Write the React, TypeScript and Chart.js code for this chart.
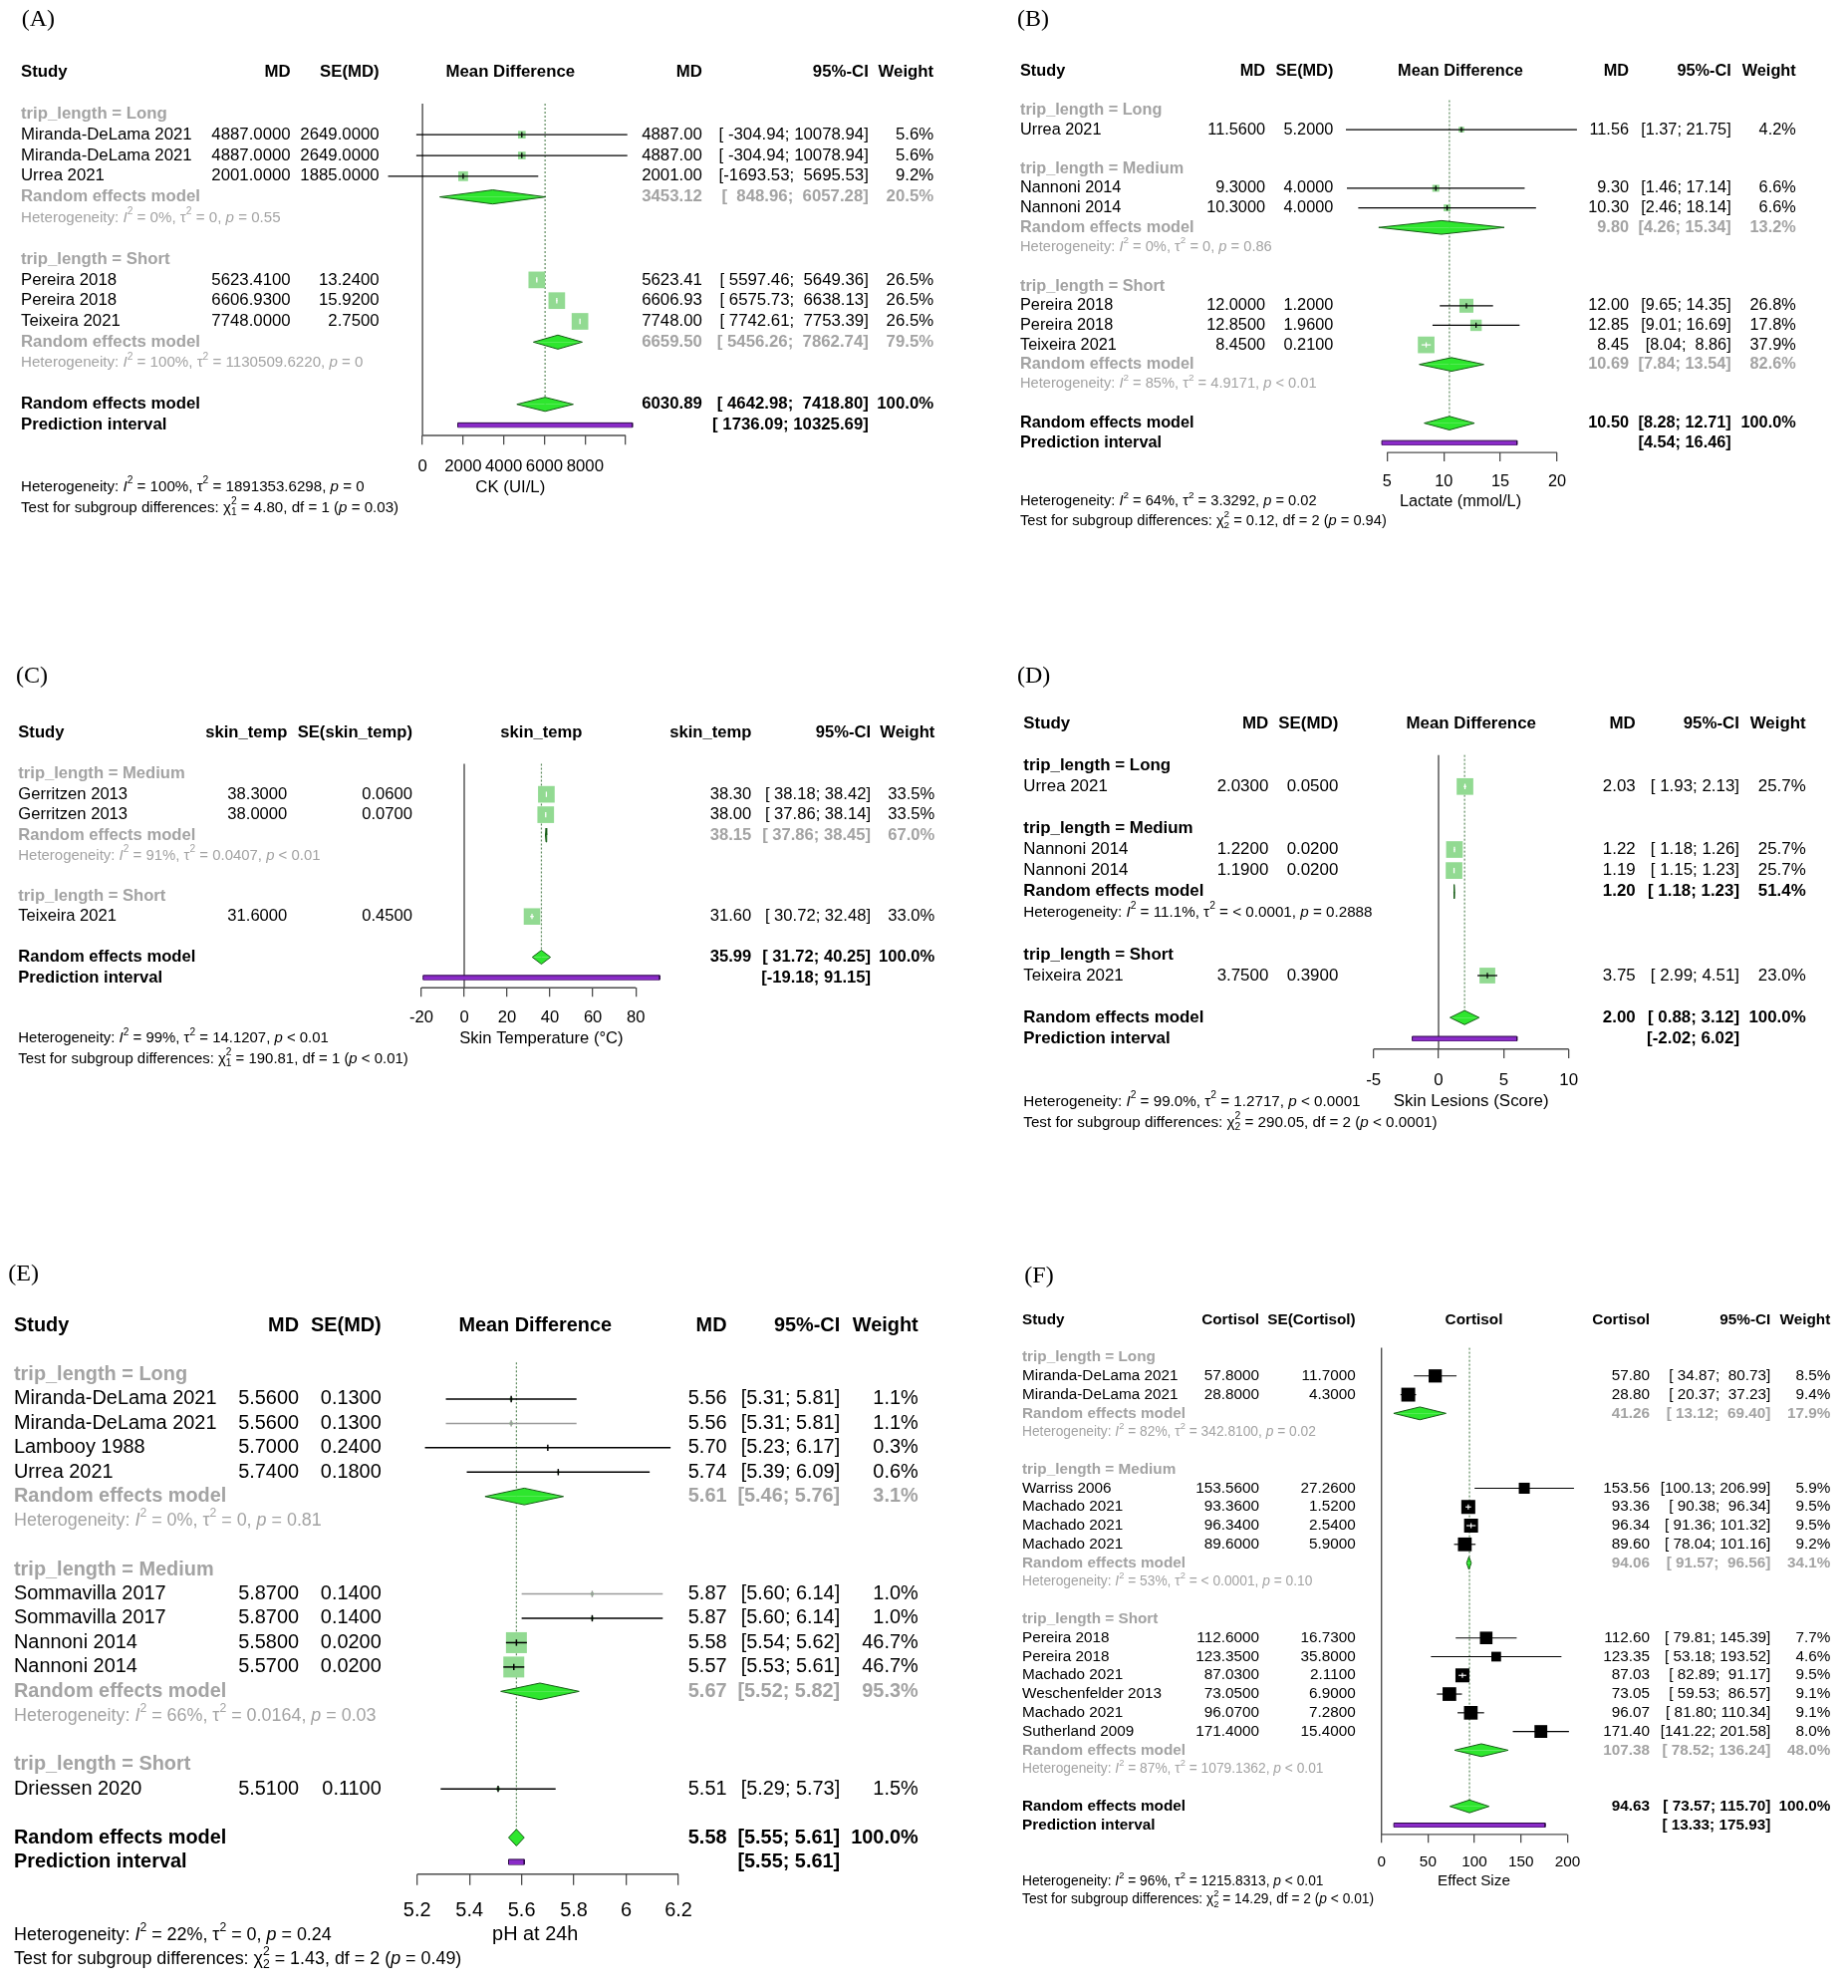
import React, { useEffect, useRef } from 'react';
import { Chart, registerables } from 'chart.js';

Chart.register(...registerables);

// ================= DATA =================
// ---- Panel A : CK ----
const A_GROUPS = ['trip_length = Long', 'trip_length = Short'];
const A_STUDIES = ['Miranda-DeLama 2021', 'Miranda-DeLama 2021', 'Urrea 2021', 'Pereira 2018', 'Pereira 2018', 'Teixeira 2021'];
const A_STUDY_GROUP = [0, 0, 0, 1, 1, 1];
const A_MD = [4887.0, 4887.0, 2001.0, 5623.41, 6606.93, 7748.0];
const A_SE = [2649.0, 2649.0, 1885.0, 13.24, 15.92, 2.75];
const A_LOWER = [-304.94, -304.94, -1693.53, 5597.46, 6575.73, 7742.61];
const A_UPPER = [10078.94, 10078.94, 5695.53, 5649.36, 6638.13, 7753.39];
const A_WEIGHT = [5.6, 5.6, 9.2, 26.5, 26.5, 26.5];
const A_SUB_MD = [3453.12, 6659.5];
const A_SUB_LOWER = [848.96, 5456.26];
const A_SUB_UPPER = [6057.28, 7862.74];
const A_SUB_WEIGHT = [20.5, 79.5];
const A_SUB_HET = ['Heterogeneity: *I*^2^ = 0%, τ^2^ = 0, *p* = 0.55', 'Heterogeneity: *I*^2^ = 100%, τ^2^ = 1130509.6220, *p* = 0'];
const A_OVERALL = [6030.89, 4642.98, 7418.8];
const A_PRED = [1736.09, 10325.69];
const A_HET = 'Heterogeneity: *I*^2^ = 100%, τ^2^ = 1891353.6298, *p* = 0';
const A_TEST = 'Test for subgroup differences: χ^2^_1_ = 4.80, df = 1 (*p* = 0.03)';
const A_TICKS = [0, 2000, 4000, 6000, 8000, 10000];
const A_TICK_LABELS = ['0', '2000', '4000', '6000', '8000', ''];
const A_HEADS = ['MD', 'SE(MD)', 'Mean Difference', 'MD'];
const A_XLAB = 'CK (UI/L)';

// ---- Panel B : Lactate ----
const B_GROUPS = ['trip_length = Long', 'trip_length = Medium', 'trip_length = Short'];
const B_STUDIES = ['Urrea 2021', 'Nannoni 2014', 'Nannoni 2014', 'Pereira 2018', 'Pereira 2018', 'Teixeira 2021'];
const B_STUDY_GROUP = [0, 1, 1, 2, 2, 2];
const B_MD = [11.56, 9.3, 10.3, 12.0, 12.85, 8.45];
const B_SE = [5.2, 4.0, 4.0, 1.2, 1.96, 0.21];
const B_LOWER = [1.37, 1.46, 2.46, 9.65, 9.01, 8.04];
const B_UPPER = [21.75, 17.14, 18.14, 14.35, 16.69, 8.86];
const B_WEIGHT = [4.2, 6.6, 6.6, 26.8, 17.8, 37.9];
const B_SUB_MD = [9.8, 10.69];
const B_SUB_LOWER = [4.26, 7.84];
const B_SUB_UPPER = [15.34, 13.54];
const B_SUB_WEIGHT = [13.2, 82.6];
const B_SUB_HET = ['Heterogeneity: *I*^2^ = 0%, τ^2^ = 0, *p* = 0.86', 'Heterogeneity: *I*^2^ = 85%, τ^2^ = 4.9171, *p* < 0.01'];
const B_OVERALL = [10.5, 8.28, 12.71];
const B_PRED = [4.54, 16.46];
const B_HET = 'Heterogeneity: *I*^2^ = 64%, τ^2^ = 3.3292, *p* = 0.02';
const B_TEST = 'Test for subgroup differences: χ^2^_2_ = 0.12, df = 2 (*p* = 0.94)';
const B_TICKS = [5, 10, 15, 20];
const B_TICK_LABELS = ['5', '10', '15', '20'];
const B_HEADS = ['MD', 'SE(MD)', 'Mean Difference', 'MD'];
const B_XLAB = 'Lactate (mmol/L)';

// ---- Panel C : Skin temperature ----
const C_GROUPS = ['trip_length = Medium', 'trip_length = Short'];
const C_STUDIES = ['Gerritzen 2013', 'Gerritzen 2013', 'Teixeira 2021'];
const C_STUDY_GROUP = [0, 0, 1];
const C_MD = [38.3, 38.0, 31.6];
const C_SE = [0.06, 0.07, 0.45];
const C_LOWER = [38.18, 37.86, 30.72];
const C_UPPER = [38.42, 38.14, 32.48];
const C_WEIGHT = [33.5, 33.5, 33.0];
const C_SUB_MD = [38.15];
const C_SUB_LOWER = [37.86];
const C_SUB_UPPER = [38.45];
const C_SUB_WEIGHT = [67.0];
const C_SUB_HET = ['Heterogeneity: *I*^2^ = 91%, τ^2^ = 0.0407, *p* < 0.01'];
const C_OVERALL = [35.99, 31.72, 40.25];
const C_PRED = [-19.18, 91.15];
const C_HET = 'Heterogeneity: *I*^2^ = 99%, τ^2^ = 14.1207, *p* < 0.01';
const C_TEST = 'Test for subgroup differences: χ^2^_1_ = 190.81, df = 1 (*p* < 0.01)';
const C_TICKS = [-20, 0, 20, 40, 60, 80];
const C_TICK_LABELS = ['-20', '0', '20', '40', '60', '80'];
const C_HEADS = ['skin_temp', 'SE(skin_temp)', 'skin_temp', 'skin_temp'];
const C_XLAB = 'Skin Temperature (°C)';

// ---- Panel D : Skin lesions ----
const D_GROUPS = ['trip_length = Long', 'trip_length = Medium', 'trip_length = Short'];
const D_STUDIES = ['Urrea 2021', 'Nannoni 2014', 'Nannoni 2014', 'Teixeira 2021'];
const D_STUDY_GROUP = [0, 1, 1, 2];
const D_MD = [2.03, 1.22, 1.19, 3.75];
const D_SE = [0.05, 0.02, 0.02, 0.39];
const D_LOWER = [1.93, 1.18, 1.15, 2.99];
const D_UPPER = [2.13, 1.26, 1.23, 4.51];
const D_WEIGHT = [25.7, 25.7, 25.7, 23.0];
const D_SUB_MD = [1.2];
const D_SUB_LOWER = [1.18];
const D_SUB_UPPER = [1.23];
const D_SUB_WEIGHT = [51.4];
const D_SUB_HET = ['Heterogeneity: *I*^2^ = 11.1%, τ^2^ = < 0.0001, *p* = 0.2888'];
const D_OVERALL = [2.0, 0.88, 3.12];
const D_PRED = [-2.02, 6.02];
const D_HET = 'Heterogeneity: *I*^2^ = 99.0%, τ^2^ = 1.2717, *p* < 0.0001';
const D_TEST = 'Test for subgroup differences: χ^2^_2_ = 290.05, df = 2 (*p* < 0.0001)';
const D_TICKS = [-5, 0, 5, 10];
const D_TICK_LABELS = ['-5', '0', '5', '10'];
const D_HEADS = ['MD', 'SE(MD)', 'Mean Difference', 'MD'];
const D_XLAB = 'Skin Lesions (Score)';

// ---- Panel E : pH at 24h ----
const E_GROUPS = ['trip_length = Long', 'trip_length = Medium', 'trip_length = Short'];
const E_STUDIES = ['Miranda-DeLama 2021', 'Miranda-DeLama 2021', 'Lambooy 1988', 'Urrea 2021', 'Sommavilla 2017', 'Sommavilla 2017', 'Nannoni 2014', 'Nannoni 2014', 'Driessen 2020'];
const E_STUDY_GROUP = [0, 0, 0, 0, 1, 1, 1, 1, 2];
const E_MD = [5.56, 5.56, 5.7, 5.74, 5.87, 5.87, 5.58, 5.57, 5.51];
const E_SE = [0.13, 0.13, 0.24, 0.18, 0.14, 0.14, 0.02, 0.02, 0.11];
const E_LOWER = [5.31, 5.31, 5.23, 5.39, 5.6, 5.6, 5.54, 5.53, 5.29];
const E_UPPER = [5.81, 5.81, 6.17, 6.09, 6.14, 6.14, 5.62, 5.61, 5.73];
const E_WEIGHT = [1.1, 1.1, 0.3, 0.6, 1.0, 1.0, 46.7, 46.7, 1.5];
const E_SUB_MD = [5.61, 5.67];
const E_SUB_LOWER = [5.46, 5.52];
const E_SUB_UPPER = [5.76, 5.82];
const E_SUB_WEIGHT = [3.1, 95.3];
const E_SUB_HET = ['Heterogeneity: *I*^2^ = 0%, τ^2^ = 0, *p* = 0.81', 'Heterogeneity: *I*^2^ = 66%, τ^2^ = 0.0164, *p* = 0.03'];
const E_OVERALL = [5.58, 5.55, 5.61];
const E_PRED = [5.55, 5.61];
const E_HET = 'Heterogeneity: *I*^2^ = 22%, τ^2^ = 0, *p* = 0.24';
const E_TEST = 'Test for subgroup differences: χ^2^_2_ = 1.43, df = 2 (*p* = 0.49)';
const E_TICKS = [5.2, 5.4, 5.6, 5.8, 6.0, 6.2];
const E_TICK_LABELS = ['5.2', '5.4', '5.6', '5.8', '6', '6.2'];
const E_HEADS = ['MD', 'SE(MD)', 'Mean Difference', 'MD'];
const E_XLAB = 'pH at 24h';

// ---- Panel F : Cortisol ----
const F_GROUPS = ['trip_length = Long', 'trip_length = Medium', 'trip_length = Short'];
const F_STUDIES = ['Miranda-DeLama 2021', 'Miranda-DeLama 2021', 'Warriss 2006', 'Machado 2021', 'Machado 2021', 'Machado 2021', 'Pereira 2018', 'Pereira 2018', 'Machado 2021', 'Weschenfelder 2013', 'Machado 2021', 'Sutherland 2009'];
const F_STUDY_GROUP = [0, 0, 1, 1, 1, 1, 2, 2, 2, 2, 2, 2];
const F_MD = [57.8, 28.8, 153.56, 93.36, 96.34, 89.6, 112.6, 123.35, 87.03, 73.05, 96.07, 171.4];
const F_SE = [11.7, 4.3, 27.26, 1.52, 2.54, 5.9, 16.73, 35.8, 2.11, 6.9, 7.28, 15.4];
const F_LOWER = [34.87, 20.37, 100.13, 90.38, 91.36, 78.04, 79.81, 53.18, 82.89, 59.53, 81.8, 141.22];
const F_UPPER = [80.73, 37.23, 206.99, 96.34, 101.32, 101.16, 145.39, 193.52, 91.17, 86.57, 110.34, 201.58];
const F_WEIGHT = [8.5, 9.4, 5.9, 9.5, 9.5, 9.2, 7.7, 4.6, 9.5, 9.1, 9.1, 8.0];
const F_SUB_MD = [41.26, 94.06, 107.38];
const F_SUB_LOWER = [13.12, 91.57, 78.52];
const F_SUB_UPPER = [69.4, 96.56, 136.24];
const F_SUB_WEIGHT = [17.9, 34.1, 48.0];
const F_SUB_HET = ['Heterogeneity: *I*^2^ = 82%, τ^2^ = 342.8100, *p* = 0.02', 'Heterogeneity: *I*^2^ = 53%, τ^2^ = < 0.0001, *p* = 0.10', 'Heterogeneity: *I*^2^ = 87%, τ^2^ = 1079.1362, *p* < 0.01'];
const F_OVERALL = [94.63, 73.57, 115.7];
const F_PRED = [13.33, 175.93];
const F_HET = 'Heterogeneity: *I*^2^ = 96%, τ^2^ = 1215.8313, *p* < 0.01';
const F_TEST = 'Test for subgroup differences: χ^2^_2_ = 14.29, df = 2 (*p* < 0.01)';
const F_TICKS = [0, 50, 100, 150, 200];
const F_TICK_LABELS = ['0', '50', '100', '150', '200'];
const F_HEADS = ['Cortisol', 'SE(Cortisol)', 'Cortisol', 'Cortisol'];
const F_XLAB = 'Effect Size';

// ================= STYLE / LAYOUT =================
const FONT = '"Liberation Sans", Arial, Helvetica, sans-serif';
const SERIF = '"Liberation Serif", "Times New Roman", serif';
const GRAY = '#a3a3a3';
const SQ_GREEN = 'rgb(146, 218, 146)';
const DIAMOND_FILL = '#2ee62e';
const DIAMOND_LINE = '#145a14';
const PI_FILL = '#8a2bc8';
const PI_LINE = '#2b0a45';
const AXIS_COL = '#4d4d4d';
const DOT_COL = '#5d8a5d';

const mk = (p: any) => p;

const PANELS: any[] = [
  {
    d: mk({ groups: A_GROUPS, studies: A_STUDIES, studyGroup: A_STUDY_GROUP, md: A_MD, se: A_SE, lower: A_LOWER, upper: A_UPPER, weight: A_WEIGHT, subMd: A_SUB_MD, subLower: A_SUB_LOWER, subUpper: A_SUB_UPPER, subWeight: A_SUB_WEIGHT, subHet: A_SUB_HET, overall: A_OVERALL, pred: A_PRED, het: A_HET, test: A_TEST, ticks: A_TICKS, tickLabels: A_TICK_LABELS, heads: A_HEADS, xlab: A_XLAB }),
    L: { label: '(A)', ox: 0, oy: 0, w: 950, h: 540, labelX: 21.7, labelY: 19.4, row0: 114.4, step: 20.81, x0val: 0, x0px: 424.1, ppu: 0.0204, font: 16.8, boxMax: 16.7, cols: { study: 21, md: 291.7, se: 380.7, center: 512.3, est: 704.8, ci: 871.8, weight: 937.2 }, square: SQ_GREEN, subBlack: false, light: [] },
  },
  {
    d: mk({ groups: B_GROUPS, studies: B_STUDIES, studyGroup: B_STUDY_GROUP, md: B_MD, se: B_SE, lower: B_LOWER, upper: B_UPPER, weight: B_WEIGHT, subMd: B_SUB_MD, subLower: B_SUB_LOWER, subUpper: B_SUB_UPPER, subWeight: B_SUB_WEIGHT, subHet: B_SUB_HET, overall: B_OVERALL, pred: B_PRED, het: B_HET, test: B_TEST, ticks: B_TICKS, tickLabels: B_TICK_LABELS, heads: B_HEADS, xlab: B_XLAB }),
    L: { label: '(B)', ox: 1000, oy: 0, w: 855, h: 545, labelX: 1021, labelY: 20, row0: 110.4, step: 19.64, x0val: 0, x0px: 1335.4, ppu: 11.38, font: 16.3, boxMax: 16.7, cols: { study: 1024, md: 1270, se: 1338.3, center: 1466, est: 1635, ci: 1737.7, weight: 1802.7 }, square: SQ_GREEN, subBlack: false, light: [] },
  },
  {
    d: mk({ groups: C_GROUPS, studies: C_STUDIES, studyGroup: C_STUDY_GROUP, md: C_MD, se: C_SE, lower: C_LOWER, upper: C_UPPER, weight: C_WEIGHT, subMd: C_SUB_MD, subLower: C_SUB_LOWER, subUpper: C_SUB_UPPER, subWeight: C_SUB_WEIGHT, subHet: C_SUB_HET, overall: C_OVERALL, pred: C_PRED, het: C_HET, test: C_TEST, ticks: C_TICKS, tickLabels: C_TICK_LABELS, heads: C_HEADS, xlab: C_XLAB }),
    L: { label: '(C)', ox: 0, oy: 650, w: 950, h: 440, labelX: 16, labelY: 679, row0: 776.7, step: 20.43, x0val: 0, x0px: 466, ppu: 2.152, font: 16.6, boxMax: 16.7, cols: { study: 18.3, md: 288.3, se: 414, center: 543.4, est: 754.3, ci: 874, weight: 938.3 }, square: SQ_GREEN, subBlack: false, light: [] },
  },
  {
    d: mk({ groups: D_GROUPS, studies: D_STUDIES, studyGroup: D_STUDY_GROUP, md: D_MD, se: D_SE, lower: D_LOWER, upper: D_UPPER, weight: D_WEIGHT, subMd: D_SUB_MD, subLower: D_SUB_LOWER, subUpper: D_SUB_UPPER, subWeight: D_SUB_WEIGHT, subHet: D_SUB_HET, overall: D_OVERALL, pred: D_PRED, het: D_HET, test: D_TEST, ticks: D_TICKS, tickLabels: D_TICK_LABELS, heads: D_HEADS, xlab: D_XLAB }),
    L: { label: '(D)', ox: 1000, oy: 650, w: 855, h: 500, labelX: 1021, labelY: 679, row0: 768.2, step: 21.08, x0val: 0, x0px: 1444, ppu: 13.07, font: 16.9, boxMax: 16.7, cols: { study: 1027.3, md: 1273.3, se: 1343.3, center: 1476.7, est: 1641.7, ci: 1746, weight: 1812.7 }, square: SQ_GREEN, subBlack: true, light: [] },
  },
  {
    d: mk({ groups: E_GROUPS, studies: E_STUDIES, studyGroup: E_STUDY_GROUP, md: E_MD, se: E_SE, lower: E_LOWER, upper: E_UPPER, weight: E_WEIGHT, subMd: E_SUB_MD, subLower: E_SUB_LOWER, subUpper: E_SUB_UPPER, subWeight: E_SUB_WEIGHT, subHet: E_SUB_HET, overall: E_OVERALL, pred: E_PRED, het: E_HET, test: E_TEST, ticks: E_TICKS, tickLabels: E_TICK_LABELS, heads: E_HEADS, xlab: E_XLAB }),
    L: { label: '(E)', ox: 0, oy: 1250, w: 950, h: 745, labelX: 8.3, labelY: 1279, row0: 1379.5, step: 24.45, x0val: 5.2, x0px: 418.7, ppu: 262.3, font: 19.9, boxMax: 21, cols: { study: 14, md: 300, se: 382.7, center: 537.2, est: 729.5, ci: 843.2, weight: 921.7 }, square: SQ_GREEN, subBlack: false, light: [1, 4] },
  },
  {
    d: mk({ groups: F_GROUPS, studies: F_STUDIES, studyGroup: F_STUDY_GROUP, md: F_MD, se: F_SE, lower: F_LOWER, upper: F_UPPER, weight: F_WEIGHT, subMd: F_SUB_MD, subLower: F_SUB_LOWER, subUpper: F_SUB_UPPER, subWeight: F_SUB_WEIGHT, subHet: F_SUB_HET, overall: F_OVERALL, pred: F_PRED, het: F_HET, test: F_TEST, ticks: F_TICKS, tickLabels: F_TICK_LABELS, heads: F_HEADS, xlab: F_XLAB }),
    L: { label: '(F)', ox: 1000, oy: 1250, w: 855, h: 700, labelX: 1028.3, labelY: 1281, row0: 1362, step: 18.78, x0val: 0, x0px: 1386.7, ppu: 0.9336, font: 15.3, boxMax: 14, cols: { study: 1026, md: 1264, se: 1360.7, center: 1479.5, est: 1656, ci: 1777.3, weight: 1837.3 }, square: '#000000', subBlack: false, light: [] },
  },
];

// ================= HELPERS =================
function drawRich(ctx: any, markup: string, x: number, y: number, size: number, color: string) {
  const segs: any[] = [];
  let it = false;
  let mode = 0;
  let buf = '';
  const flush = () => {
    if (buf) segs.push({ t: buf, it, mode });
    buf = '';
  };
  for (const ch of markup) {
    if (ch === '*') { flush(); it = !it; }
    else if (ch === '^') { flush(); mode = mode === 1 ? 0 : 1; }
    else if (ch === '_') { flush(); mode = mode === 2 ? 0 : 2; }
    else buf += ch;
  }
  flush();
  ctx.fillStyle = color;
  ctx.textAlign = 'left';
  ctx.textBaseline = 'middle';
  let cx = x;
  let supX = 0;
  let supW = 0;
  let prev = 0;
  for (const s of segs) {
    const fs = s.mode ? size * 0.68 : size;
    ctx.font = `${s.it ? 'italic ' : ''}${fs}px ${FONT}`;
    const w = ctx.measureText(s.t).width;
    const dy = s.mode === 1 ? -size * 0.42 : s.mode === 2 ? size * 0.32 : 0;
    if (s.mode === 2 && prev === 1) {
      ctx.fillText(s.t, supX, y + dy);
      cx = supX + Math.max(supW, w);
    } else {
      ctx.fillText(s.t, cx, y + dy);
      if (s.mode === 1) { supX = cx; supW = w; }
      cx += w;
    }
    prev = s.mode;
  }
}

function ForestPanel({ d, L }: any) {
  const ref = useRef<HTMLCanvasElement>(null);
  useEffect(() => {
    const canvas = ref.current;
    if (!canvas) return;
    // ----- row layout -----
    const rows: any[] = [];
    const studyRow: number[] = d.studies.map(() => 0);
    const subRow: number[] = [];
    let r = 0;
    let sub = 0;
    d.groups.forEach((g: string, gi: number) => {
      rows.push({ kind: 'group', r, text: g });
      r++;
      const idx = d.studies.map((_: any, i: number) => i).filter((i: number) => d.studyGroup[i] === gi);
      idx.forEach((i: number) => { studyRow[i] = r; rows.push({ kind: 'study', r, i }); r++; });
      if (idx.length > 1) {
        subRow[sub] = r;
        rows.push({ kind: 'sub', r, s: sub }); r++;
        rows.push({ kind: 'subhet', r, s: sub }); r++;
        sub++;
      }
      r++;
    });
    const overallRow = r;
    const predRow = r + 1;
    const last = predRow;

    // ----- CI formatting -----
    const allLo = [...d.lower, ...d.subLower, d.overall[1], d.pred[0]].map((v: number) => v.toFixed(2));
    const allHi = [...d.upper, ...d.subUpper, d.overall[2], d.pred[1]].map((v: number) => v.toFixed(2));
    const wl = Math.max(...allLo.map((s: string) => s.length));
    const wh = Math.max(...allHi.map((s: string) => s.length));
    const ci = (lo: number, hi: number) => '[' + lo.toFixed(2).padStart(wl, ' ') + '; ' + hi.toFixed(2).padStart(wh, ' ') + ']';

    // ----- geometry -----
    const rowPx = (rr: number) => L.row0 + rr * L.step;
    const cmin = Math.min(...d.lower, ...d.subLower, d.overall[1], d.pred[0], d.ticks[0]);
    const cmax = Math.max(...d.upper, ...d.subUpper, d.overall[2], d.pred[1], d.ticks[d.ticks.length - 1]);
    const leftPx = L.x0px + (cmin - L.x0val) * L.ppu;
    const rightPx = L.x0px + (cmax - L.x0val) * L.ppu;
    const padTop = rowPx(-0.5) - L.oy;
    const xh = L.oy + L.h - rowPx(last + 0.5);
    const tickLen = 0.55 * L.font;
    const tickPad = 1.5 * L.step - tickLen - 0.6 * L.font;

    const maxW = Math.max(...d.weight);
    const sides = d.weight.map((w: number) => L.boxMax * Math.sqrt(w / maxW));
    const ciCol = d.studies.map((_: any, i: number) => {
      const ciPx = (d.upper[i] - d.lower[i]) * L.ppu;
      if (ciPx < sides[i] - 1) return '#ffffff';
      return L.light.includes(i) ? '#9a9a9a' : '#000000';
    });
    const diaH = (0.42 * L.font) / L.step;
    const piH = (0.13 * L.font) / L.step;
    const lw = Math.max(1.1, 0.075 * L.font);

    // ----- datasets (index 0 drawn on top) -----
    const datasets: any[] = [];
    datasets.push({
      data: d.md.map((v: number, i: number) => ({ x: v, y: studyRow[i] })),
      showLine: false, pointStyle: 'line', pointRotation: 90, pointRadius: 0.16 * L.font,
      pointBorderColor: ciCol, pointBackgroundColor: ciCol, pointBorderWidth: lw, clip: false,
    });
    const ciData: any[] = [];
    d.studies.forEach((_: any, i: number) => {
      ciData.push({ x: d.lower[i], y: studyRow[i] }, { x: d.upper[i], y: studyRow[i] }, { x: d.upper[i], y: null });
    });
    datasets.push({
      data: ciData, borderColor: '#000', borderWidth: lw, pointRadius: 0, spanGaps: false, fill: false, clip: false,
      segment: { borderColor: (c: any) => ciCol[Math.floor(c.p0DataIndex / 3)] },
    });
    datasets.push({
      data: d.md.map((v: number, i: number) => ({ x: v, y: studyRow[i] })),
      showLine: false, pointStyle: 'rect', pointRadius: sides.map((s: number) => s / Math.SQRT2),
      pointBackgroundColor: L.square, pointBorderColor: L.square, pointBorderWidth: 0, clip: false,
    });
    const diamond = (est: number, lo: number, hi: number, rr: number) => {
      [-1, 1].forEach((sgn) => {
        datasets.push({
          data: [{ x: lo, y: rr }, { x: est, y: rr + sgn * diaH }, { x: hi, y: rr }],
          fill: { value: rr }, backgroundColor: DIAMOND_FILL, borderColor: DIAMOND_LINE, borderWidth: 1,
          pointRadius: 0, clip: false,
        });
      });
    };
    d.subMd.forEach((v: number, s: number) => diamond(v, d.subLower[s], d.subUpper[s], subRow[s]));
    diamond(d.overall[0], d.overall[1], d.overall[2], overallRow);
    datasets.push({
      data: [{ x: d.pred[0], y: predRow + piH }, { x: d.pred[0], y: predRow - piH }, { x: d.pred[1], y: predRow - piH }, { x: d.pred[1], y: predRow + piH }],
      fill: { value: predRow + piH }, backgroundColor: PI_FILL, borderColor: PI_LINE, borderWidth: 1, pointRadius: 0, clip: false,
    });
    datasets.push({
      data: [{ x: d.pred[0], y: predRow + piH }, { x: d.pred[1], y: predRow + piH }],
      borderColor: PI_LINE, borderWidth: 1, pointRadius: 0, fill: false, clip: false,
    });
    datasets.push({
      data: [{ x: d.overall[0], y: -0.5 }, { x: d.overall[0], y: overallRow }],
      borderColor: DOT_COL, borderWidth: 1.2, borderDash: [2, 2], pointRadius: 0, fill: false, clip: false,
    });
    if (d.ticks[0] <= 0 && d.ticks[d.ticks.length - 1] >= 0) {
      datasets.push({
        data: [{ x: 0, y: -0.5 }, { x: 0, y: last + 0.5 }],
        borderColor: AXIS_COL, borderWidth: 1.4, pointRadius: 0, fill: false, clip: false,
      });
    }
    datasets.push({
      data: [{ x: d.ticks[0], y: last + 0.5 }, { x: d.ticks[d.ticks.length - 1], y: last + 0.5 }],
      borderColor: AXIS_COL, borderWidth: 1.4, pointRadius: 0, fill: false, clip: false,
    });

    // ----- text plugin -----
    const textPlugin = {
      id: 'forestText',
      afterDraw(chart: any) {
        const ctx = chart.ctx;
        const ys = chart.scales.y;
        const Y = (rr: number) => ys.getPixelForValue(rr);
        const X = (gx: number) => gx - L.ox;
        const c = L.cols;
        const put = (s: string, gx: number, rr: number, align: string, bold: boolean, color: string, size?: number) => {
          ctx.font = `${bold ? 'bold ' : ''}${size || L.font}px ${FONT}`;
          ctx.fillStyle = color;
          ctx.textAlign = align;
          ctx.textBaseline = 'middle';
          ctx.fillText(s, X(gx), Y(rr));
        };
        ctx.save();
        ctx.font = `24px ${SERIF}`;
        ctx.fillStyle = '#000';
        ctx.textAlign = 'left';
        ctx.textBaseline = 'middle';
        ctx.fillText(L.label, X(L.labelX), L.labelY - L.oy);

        const K = '#000';
        put('Study', c.study, -2, 'left', true, K);
        put(d.heads[0], c.md, -2, 'right', true, K);
        put(d.heads[1], c.se, -2, 'right', true, K);
        put(d.heads[2], c.center, -2, 'center', true, K);
        put(d.heads[3], c.est, -2, 'right', true, K);
        put('95%-CI', c.ci, -2, 'right', true, K);
        put('Weight', c.weight, -2, 'right', true, K);

        const gcol = L.subBlack ? K : GRAY;
        rows.forEach((row: any) => {
          if (row.kind === 'group') put(row.text, c.study, row.r, 'left', true, gcol);
          else if (row.kind === 'study') {
            const i = row.i;
            put(d.studies[i], c.study, row.r, 'left', false, K);
            put(d.md[i].toFixed(4), c.md, row.r, 'right', false, K);
            put(d.se[i].toFixed(4), c.se, row.r, 'right', false, K);
            put(d.md[i].toFixed(2), c.est, row.r, 'right', false, K);
            put(ci(d.lower[i], d.upper[i]), c.ci, row.r, 'right', false, K);
            put(d.weight[i].toFixed(1) + '%', c.weight, row.r, 'right', false, K);
          } else if (row.kind === 'sub') {
            const s = row.s;
            put('Random effects model', c.study, row.r, 'left', true, gcol);
            put(d.subMd[s].toFixed(2), c.est, row.r, 'right', true, gcol);
            put(ci(d.subLower[s], d.subUpper[s]), c.ci, row.r, 'right', true, gcol);
            put(d.subWeight[s].toFixed(1) + '%', c.weight, row.r, 'right', true, gcol);
          } else if (row.kind === 'subhet') {
            drawRich(ctx, d.subHet[row.s], X(c.study), Y(row.r), L.font * 0.9, gcol);
          }
        });
        put('Random effects model', c.study, overallRow, 'left', true, K);
        put(d.overall[0].toFixed(2), c.est, overallRow, 'right', true, K);
        put(ci(d.overall[1], d.overall[2]), c.ci, overallRow, 'right', true, K);
        put('100.0%', c.weight, overallRow, 'right', true, K);
        put('Prediction interval', c.study, predRow, 'left', true, K);
        put(ci(d.pred[0], d.pred[1]), c.ci, predRow, 'right', true, K);

        put(d.xlab, c.center, last + 3, 'center', false, K);
        drawRich(ctx, d.het, X(c.study), Y(last + 3), L.font * 0.9, K);
        drawRich(ctx, d.test, X(c.study), Y(last + 4), L.font * 0.9, K);
        ctx.restore();
      },
    };

    const chart = new Chart(canvas, {
      type: 'line',
      data: { datasets },
      options: {
        animation: false,
        responsive: false,
        events: [],
        layout: { padding: { left: leftPx - L.ox, right: L.ox + L.w - rightPx, top: padTop, bottom: 0 } },
        plugins: { legend: { display: false }, tooltip: { enabled: false }, title: { display: false } },
        scales: {
          x: {
            type: 'linear',
            min: cmin,
            max: cmax,
            afterBuildTicks: (s: any) => { s.ticks = d.ticks.map((v: number) => ({ value: v })); },
            afterFit: (s: any) => { s.height = xh; },
            border: { display: false },
            grid: { display: true, drawOnChartArea: false, drawTicks: true, tickLength: tickLen, color: AXIS_COL, lineWidth: 1.3 },
            ticks: {
              autoSkip: false, maxRotation: 0, minRotation: 0, padding: tickPad, color: '#000',
              font: { family: FONT, size: L.font },
              callback: (_v: any, i: number) => d.tickLabels[i],
            },
          },
          y: { type: 'linear', display: false, min: -0.5, max: last + 0.5, reverse: true },
        },
      } as any,
      plugins: [textPlugin as any],
    });
    return () => chart.destroy();
  }, []);
  return (
    <canvas
      ref={ref}
      width={L.w}
      height={L.h}
      style={{ position: 'absolute', left: L.ox, top: L.oy, width: L.w, height: L.h }}
    />
  );
}

export default function App() {
  return (
    <div style={{ position: 'absolute', left: 0, top: 0, width: 1855, height: 1995, background: '#ffffff', overflow: 'hidden' }}>
      {PANELS.map((p, i) => (
        <ForestPanel key={i} d={p.d} L={p.L} />
      ))}
    </div>
  );
}
